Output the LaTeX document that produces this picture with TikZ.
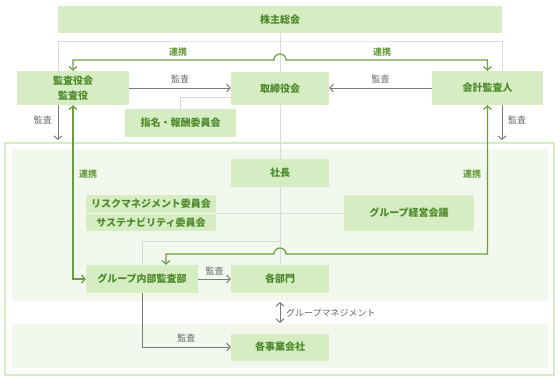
\documentclass[tikz,border=0pt]{standalone}
\usepackage{fontspec}
\setmainfont{Noto Sans CJK JP}
\usetikzlibrary{arrows.meta,calc}
\definecolor{boxfill}{HTML}{D6EDC4}
\definecolor{boxtext}{HTML}{4E8A2C}
\definecolor{panel}{HTML}{F3F8EE}
\definecolor{gline}{HTML}{D9D9D9}
\definecolor{aline}{HTML}{7A7A7A}
\definecolor{grn}{HTML}{6A9E3C}
\definecolor{lbl}{HTML}{666666}
\tikzset{
  box/.style={fill=boxfill,text=boxtext,inner sep=0pt,align=center,
    font=\fontsize{10}{15}\selectfont\bfseries},
  thinline/.style={draw=gline,line width=1pt},
  audit/.style={draw=aline,line width=1pt,-{Straight Barb[length=3.5pt,width=8pt]}},
  link/.style={draw=grn,line width=1.2pt,{Straight Barb[length=3.5pt,width=8pt]}-{Straight Barb[length=3.5pt,width=8pt]}},
  glabel/.style={text=lbl,font=\fontsize{9}{10}\selectfont,inner sep=0pt},
  llabel/.style={text=grn,font=\fontsize{9}{10}\selectfont\bfseries,inner sep=0pt},
}
\begin{document}
\begin{tikzpicture}[x=1pt,y=-1pt]
\useasboundingbox (0,0) rectangle (560,381);
% panels
\fill[panel] (12,149) rectangle (548,301);
\fill[panel] (12,324) rectangle (548,368);
\draw[boxfill,line width=1.5pt] (5,143) rectangle (554,375);
% nodes
\node[box,minimum width=444,minimum height=27] (kabu) at (280,19.5) {株主総会};
\node[box,minimum width=112,minimum height=34] (kansa) at (73,88) {監査役会\\監査役};
\node[box,minimum width=98,minimum height=33] (tori) at (280,88.5) {取締役会};
\node[box,minimum width=111,minimum height=34] (kaikei) at (487.5,88) {会計監査人};
\node[box,minimum width=111,minimum height=28] (shimei) at (180.5,123) {指名・報酬委員会};
\node[box,minimum width=98,minimum height=28] (shacho) at (280,173) {社長};
\node[box,minimum width=130,minimum height=18] (risk) at (151,204) {リスクマネジメント委員会};
\node[box,minimum width=130,minimum height=17] (sus) at (151,222.5) {サステナビリティ委員会};
\node[box,minimum width=130,minimum height=36] (keiei) at (409,213) {グループ経営会議};
\node[box,minimum width=112,minimum height=28] (naibu) at (142,279) {グループ内部監査部};
\node[box,minimum width=98,minimum height=28] (bumon) at (280,279) {各部門};
\node[box,minimum width=98,minimum height=27] (jigyo) at (280,347) {各事業会社};
% light gray connectors
\draw[thinline] ([xshift=-15pt]kansa.north) |- (280,41) -| ([xshift=14.5pt]kaikei.north);
\draw[thinline] (kabu.south) -- (tori.north);
\draw[thinline] (tori.south) -- (shacho.north);
\draw[thinline] (shacho.south) -- (bumon.north);
\draw[thinline] (shimei.north) |- (tori.west |- 0,97);
\draw[thinline] (risk.south east) -- (keiei.west |- risk.south east);
\coordinate (j1) at (280,241);
\draw[thinline] (j1) -| (naibu.north);
% audit arrows
\draw[audit] (kansa.east) -- (kansa.east -| tori.west) node[midway,above=4pt,glabel] {監査};
\draw[audit] (kaikei.west) -- (kaikei.west -| tori.east) node[midway,above=4pt,glabel] {監査};
\coordinate (la) at (58,140);
\coordinate (ra) at (502,140);
\draw[audit] ([xshift=-15pt]kansa.south) -- (la);
\draw[audit] ([xshift=14.5pt]kaikei.south) -- (ra);
\node[glabel] (l1) at (43,120) {監査};
\node[glabel] (l2) at (517,120) {監査};
\draw[audit] (naibu.east) -- (bumon.west) node[midway,above=3pt,glabel] {監査};
\draw[audit] (naibu.south) |- (jigyo.west) node[pos=0.75,above=4pt,glabel] {監査};
\coordinate (m1) at (280,302);
\coordinate (m2) at (280,323);
\draw[draw=aline,line width=1pt,{Straight Barb[length=3.5pt,width=8pt]}-{Straight Barb[length=3.5pt,width=8pt]}] (m1) -- (m2);
\node[glabel,anchor=west] (gm) at (286,313) {グループマネジメント};
% green links
\draw[link] (kansa.north) -- (73,60) -- (274,60) arc (180:0:6pt) -- (487.5,60) -- (kaikei.north);
\node[llabel] (t1) at (178,52) {連携};
\node[llabel] (t2) at (382,52) {連携};
\draw[link] (kansa.south) |- (naibu.west);
\draw[link] (kaikei.south) -- (487.5,254) -- (286,254) arc (0:180:6pt) -- (166,254) -- ([xshift=24pt]naibu.north);
\node[llabel] (t3) at (88,174) {連携};
\node[llabel] (t4) at (472,174) {連携};
\end{tikzpicture}
\end{document}
